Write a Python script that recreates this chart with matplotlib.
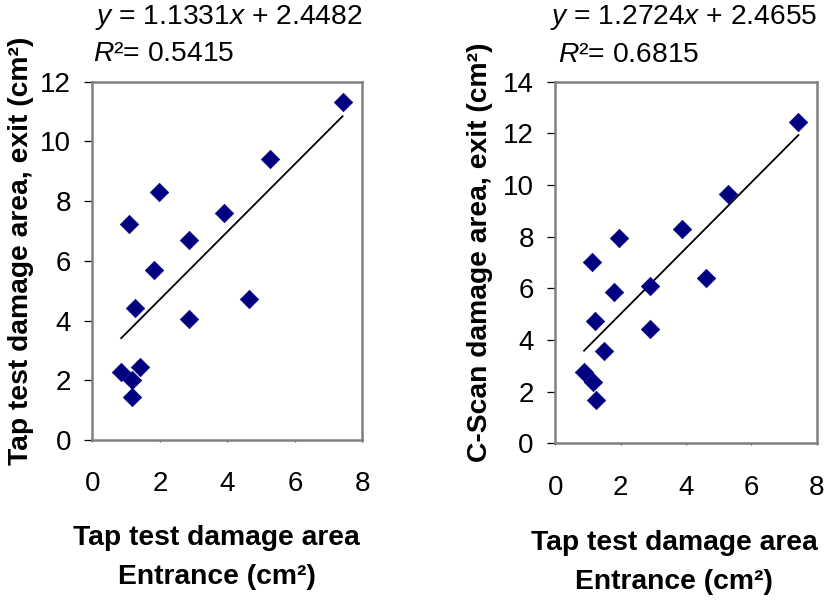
import matplotlib
matplotlib.use("Agg")
import matplotlib.pyplot as plt
import numpy as np

plt.rcParams['font.family'] = ['Liberation Sans', 'DejaVu Sans']
plt.rcParams['mathtext.fontset'] = 'custom'
plt.rcParams['mathtext.rm'] = 'Liberation Sans'
plt.rcParams['mathtext.it'] = 'Liberation Sans:italic'

# Left panel: Tap test entrance vs Tap test exit
tap_entrance_left = [0.85, 1.18, 1.42, 1.18, 1.09, 1.27, 1.82, 1.98, 2.87, 2.87, 3.89, 4.63, 5.25, 7.41]
tap_exit = [2.28, 2.01, 2.45, 1.44, 7.23, 4.43, 5.69, 8.31, 6.69, 4.06, 7.59, 4.71, 9.40, 11.31]
fit_left = (1.1331, 2.4482)
r2_left = 0.5415

# Right panel: Tap test entrance vs C-Scan exit
tap_entrance_right = [0.88, 1.15, 1.25, 1.49, 1.13, 1.22, 1.81, 1.96, 2.90, 2.90, 3.88, 4.61, 5.30, 7.44]
cscan_exit = [2.76, 2.37, 1.68, 3.58, 7.03, 4.74, 5.87, 7.96, 6.09, 4.41, 8.28, 6.40, 9.65, 12.45]
fit_right = (1.2724, 2.4655)
r2_right = 0.6815

W, H = 829, 603
fig = plt.figure(figsize=(W / 100, H / 100), dpi=100)

def fx(px):
    return px / W

def fy(py):
    return 1 - py / H

FS = 20
EFS = 20.3
BFS = 20.3
NAVY = '#000080'

def make_axes(rect, xs, ys, fit, ymax):
    ax = fig.add_axes(rect)
    ax.scatter(xs, ys, marker='D', s=88, color=NAVY, edgecolors=NAVY, linewidths=0.5, zorder=3)
    xx = np.array([min(xs), max(xs)])
    ax.plot(xx, fit[0] * xx + fit[1], color='black', lw=1.3, zorder=2)
    ax.set_xlim(0, 8)
    ax.set_ylim(0, ymax)
    ax.set_xticks(np.arange(0, 9, 2))
    ax.set_yticks(np.arange(0, ymax + 1, 2))
    for s in ax.spines.values():
        s.set_color('#808080')
        s.set_linewidth(1.8)
    ax.tick_params(axis='y', direction='out', length=5.5, width=0.9, color='black',
                   labelsize=FS, pad=10)
    ax.tick_params(axis='x', direction='out', length=1.5, width=0.9, color='#555555',
                   labelsize=FS, pad=21)
    return ax

# pixel boxes
l1, r1, t1, b1 = 92.5, 362.5, 81.7, 440
l2, r2, t2, b2 = 555.3, 816.7, 81.7, 443.3
ax1 = make_axes([fx(l1), fy(b1), fx(r1 - l1), (b1 - t1) / H], tap_entrance_left, tap_exit, fit_left, 12)
ax2 = make_axes([fx(l2), fy(b2), fx(r2 - l2), (b2 - t2) / H], tap_entrance_right, cscan_exit, fit_right, 14)

# equations
fig.text(fx(95), fy(18), r'$y$ = %.4f$x$ + %.4f' % fit_left, fontsize=EFS, ha='left', va='center')
fig.text(fx(93), fy(54), r'$R$²= %.4f' % r2_left, fontsize=EFS, ha='left', va='center')
fig.text(fx(550), fy(18), r'$y$ = %.4f$x$ + %.4f' % fit_right, fontsize=EFS, ha='left', va='center')
fig.text(fx(558), fy(55), r'$R$²= %.4f' % r2_right, fontsize=EFS, ha='left', va='center')

# axis labels
fig.text(fx(216.7), fy(538), 'Tap test damage area', fontsize=BFS, fontweight='bold', ha='center', va='center')
fig.text(fx(216.7), fy(577), 'Entrance (cm²)', fontsize=BFS, fontweight='bold', ha='center', va='center')
fig.text(fx(674), fy(543), 'Tap test damage area', fontsize=BFS, fontweight='bold', ha='center', va='center')
fig.text(fx(674), fy(582), 'Entrance (cm²)', fontsize=BFS, fontweight='bold', ha='center', va='center')

fig.text(fx(21), fy(251), 'Tap test damage area, exit (cm²)', fontsize=BFS, fontweight='bold',
         rotation=90, ha='center', va='center')
fig.text(fx(480), fy(252), 'C-Scan damage area, exit (cm²)', fontsize=BFS, fontweight='bold',
         rotation=90, ha='center', va='center')

fig.savefig('out.png', dpi=100)
